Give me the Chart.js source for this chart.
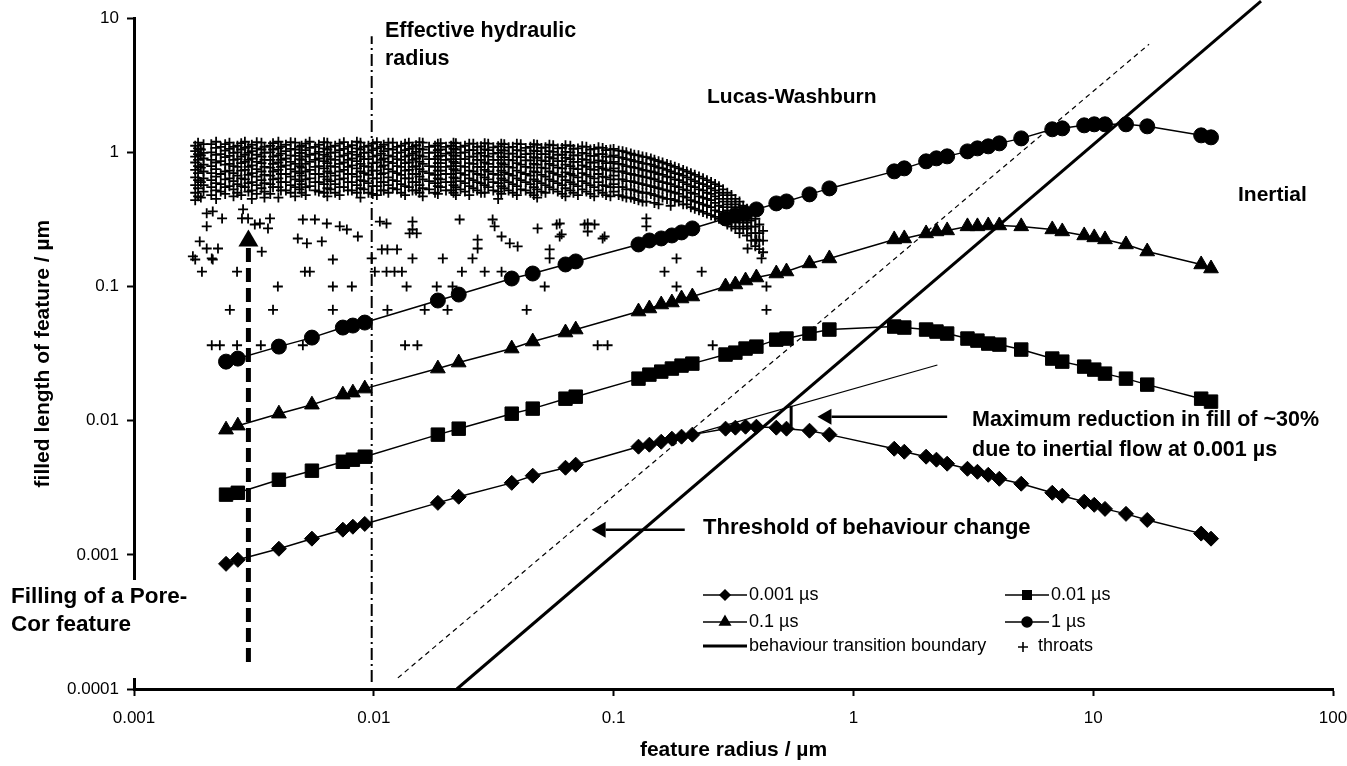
<!DOCTYPE html>
<html><head><meta charset="utf-8">
<script src="https://cdn.jsdelivr.net/npm/chart.js@4.4.1/dist/chart.umd.min.js"></script>
<style>html,body{margin:0;padding:0;background:#fff;}#wrap{width:1347px;height:766px;}</style>
</head><body><div id="wrap"><canvas id="c" width="1347" height="766"></canvas></div>
<script>
const FONT = "'Liberation Sans', Arial, sans-serif";
const xTickLabels = ['0.001','0.01','0.1','1','10','100'];
const yTickLabels = ['0.0001','0.001','0.01','0.1','1','10'];

// feature radius (µm) shared by the four Bosanquet series
const radius = [0.00242,0.00271,0.00402,0.00552,0.00743,0.00818,0.00917,0.0185,0.0226,0.0376,0.046,0.063,0.0695,0.127,0.141,0.158,0.175,0.192,0.213,0.293,0.322,0.355,0.394,0.477,0.526,0.656,0.794,1.48,1.63,2.01,2.22,2.46,2.99,3.29,3.65,4.06,5.01,6.75,7.43,9.17,10.1,11.2,13.7,16.8,28.2,31.0];
const fill0001 = [0.000857,0.000918,0.00111,0.00132,0.00154,0.00162,0.0017,0.00244,0.00271,0.00344,0.00389,0.00446,0.0047,0.0064,0.00662,0.00697,0.00734,0.0076,0.00787,0.00872,0.00887,0.00902,0.00902,0.00887,0.00872,0.00842,0.00787,0.00618,0.00587,0.00539,0.00512,0.00478,0.00438,0.00416,0.00395,0.00369,0.00339,0.0029,0.00276,0.00249,0.00236,0.0022,0.00202,0.00182,0.00144,0.00132];
const fill001 = [0.00281,0.0029,0.00363,0.00424,0.00494,0.00512,0.00539,0.00787,0.00872,0.01128,0.0123,0.01459,0.0151,0.02058,0.02205,0.02322,0.02445,0.02574,0.02663,0.0311,0.03216,0.03447,0.03566,0.04018,0.04093,0.04459,0.04777,0.05029,0.04943,0.04777,0.04614,0.04459,0.04093,0.03953,0.03755,0.0369,0.03388,0.02903,0.02755,0.0253,0.02403,0.02243,0.02058,0.01857,0.01459,0.01387];
const fill01 = [0.00857,0.00918,0.01128,0.01316,0.01563,0.01618,0.01734,0.02445,0.0271,0.03447,0.0389,0.04539,0.04777,0.06508,0.06856,0.07342,0.07599,0.08138,0.08422,0.1,0.1035,0.1108,0.1167,0.125,0.1294,0.1486,0.1618,0.2243,0.2282,0.2486,0.2573,0.2618,0.2806,0.2806,0.2851,0.2851,0.2806,0.2663,0.2573,0.2402,0.2322,0.2243,0.2058,0.1824,0.146,0.1362];
const fill1 = [0.02755,0.02903,0.03566,0.04161,0.04943,0.05117,0.05387,0.07866,0.08714,0.1147,0.125,0.146,0.1538,0.2058,0.2204,0.2282,0.2402,0.253,0.271,0.3217,0.3388,0.3507,0.3757,0.4163,0.4307,0.4862,0.5387,0.7216,0.7599,0.8571,0.9025,0.9337,1.017,1.071,1.109,1.167,1.271,1.486,1.51,1.59,1.618,1.618,1.618,1.563,1.339,1.294];

// reference lines
const boundaryR = [0.0222, 50.1];   const boundaryL = [0.0001, 13.4];
const thresholdR = [0.0126, 17.1];  const thresholdL = [0.000121, 6.4];
const lwExtR = [0.213, 2.24];       const lwExtL = [0.00787, 0.026];
const reductionR = [0.55, 0.55];    const reductionL = [0.0129, 0.009];
const poreCorR = [0.003, 0.003];    const poreCorL = [0.000159, 0.199];
const hydraulicR = [0.0098, 0.0098]; const hydraulicL = [0.000113, 7.35];

// throats: dense band columns [radius, [lengths]] and scattered throats [radius, length]
const throatColumns = [
[0.0018,[1.12,1.02,0.93,0.84,0.74,0.65,0.57,0.5,0.44]],
[0.00185,[1.18,1.07,0.97,0.88,0.79,0.7,0.62,0.54,0.47]],
[0.0019,[1.05,0.95,0.77,0.6,0.46]],
[0.00195,[1.15,0.99,0.9,0.81,0.72,0.64,0.57,0.51]],
[0.0021,[1.15,1.0,0.88,0.79,0.7,0.62,0.55,0.48]],
[0.0022,[1.2,1.08,0.96,0.84,0.75,0.66,0.59,0.52,0.45]],
[0.0023,[1.1,0.97,0.86,0.69,0.58,0.51]],
[0.0024,[1.15,1.03,0.92,0.81,0.72,0.63,0.55,0.49]],
[0.0025,[1.18,1.06,0.94,0.82,0.73,0.64,0.56]],
[0.0026,[1.1,0.99,0.88,0.79,0.7,0.61,0.53,0.47]],
[0.0027,[1.12,1.0,0.89,0.78,0.67,0.58,0.5]],
[0.0028,[1.17,1.05,0.93,0.83,0.73,0.64,0.56,0.48]],
[0.0029,[1.2,1.08,0.96,0.85,0.74,0.63,0.55]],
[0.003,[1.1,0.99,0.88,0.78,0.68,0.59,0.51]],
[0.0031,[1.14,1.02,0.9,0.8,0.7,0.6,0.52,0.45]],
[0.00325,[1.19,1.07,0.96,0.85,0.75,0.66,0.57,0.49]],
[0.0034,[1.18,1.05,0.93,0.83,0.72,0.62,0.54]],
[0.0035,[1.1,0.99,0.88,0.78,0.68,0.59,0.51,0.46]],
[0.0037,[1.12,1.0,0.88,0.77,0.67,0.58,0.49]],
[0.0038,[1.17,1.05,0.93,0.82,0.72,0.63,0.55]],
[0.004,[1.2,1.07,0.95,0.84,0.74,0.64,0.55,0.46]],
[0.0041,[1.1,0.98,0.88,0.78,0.69,0.6,0.52]],
[0.0043,[1.14,1.02,0.9,0.8,0.69,0.6,0.52]],
[0.0045,[1.19,1.06,0.95,0.85,0.75,0.66,0.57,0.5]],
[0.0047,[1.18,1.05,0.94,0.82,0.72,0.63,0.55,0.47]],
[0.0049,[1.1,0.99,0.89,0.79,0.7,0.61,0.53]],
[0.005,[1.12,0.99,0.88,0.77,0.67,0.58,0.5]],
[0.0052,[1.16,1.04,0.93,0.82,0.72,0.63,0.55,0.48]],
[0.0054,[1.2,1.08,0.96,0.85,0.74,0.64,0.56]],
[0.0057,[1.1,0.98,0.88,0.78,0.69,0.6,0.52]],
[0.0059,[1.14,1.01,0.9,0.79,0.69,0.6,0.51]],
[0.0062,[1.19,1.07,0.96,0.86,0.76,0.66,0.58,0.5]],
[0.0064,[1.18,1.05,0.93,0.83,0.72,0.63,0.54,0.47]],
[0.0066,[1.1,0.99,0.89,0.79,0.7,0.61,0.53]],
[0.0069,[1.12,1.0,0.88,0.78,0.67,0.58,0.5]],
[0.0072,[1.16,1.04,0.93,0.82,0.72,0.63,0.55,0.48]],
[0.0075,[1.19,1.06,0.95,0.84,0.74,0.64,0.55]],
[0.0078,[1.1,0.98,0.88,0.78,0.69,0.6,0.52]],
[0.0081,[1.13,1.01,0.9,0.8,0.69,0.6,0.52]],
[0.0085,[1.2,1.07,0.96,0.86,0.76,0.66,0.57,0.5]],
[0.0088,[1.18,1.05,0.93,0.82,0.72,0.62,0.54,0.46]],
[0.0091,[1.1,0.99,0.89,0.79,0.7,0.61,0.53]],
[0.0095,[1.12,1.0,0.89,0.78,0.68,0.59,0.5]],
[0.0099,[1.16,1.04,0.93,0.83,0.73,0.64,0.56,0.49]],
[0.0103,[1.19,1.07,0.95,0.84,0.73,0.64,0.56,0.48]],
[0.0107,[1.1,0.98,0.88,0.78,0.69,0.6,0.52]],
[0.011,[1.14,1.02,0.9,0.8,0.7,0.6,0.52]],
[0.0115,[1.18,1.06,0.95,0.85,0.75,0.65,0.57,0.5]],
[0.012,[1.18,1.05,0.93,0.83,0.72,0.62,0.54]],
[0.0125,[1.1,0.99,0.89,0.79,0.7,0.61,0.53]],
[0.013,[1.12,1.0,0.88,0.78,0.68,0.58,0.5]],
[0.0135,[1.16,1.04,0.93,0.83,0.73,0.64,0.56,0.48]],
[0.014,[1.18,1.06,0.95,0.84,0.74,0.64,0.55]],
[0.0145,[1.1,0.98,0.88,0.78,0.69,0.6,0.52]],
[0.015,[1.13,1.01,0.9,0.79,0.69,0.6,0.52]],
[0.0155,[1.19,1.06,0.95,0.85,0.75,0.66,0.57,0.5]],
[0.016,[1.18,1.05,0.93,0.82,0.72,0.63,0.54,0.47]],
[0.017,[1.1,0.99,0.89,0.79,0.7,0.61,0.53]],
[0.018,[1.12,1.0,0.89,0.78,0.68,0.59,0.5]],
[0.0185,[1.16,1.04,0.93,0.83,0.73,0.64,0.56,0.49]],
[0.019,[1.17,1.05,0.94,0.83,0.73,0.63,0.55]],
[0.02,[1.1,0.98,0.88,0.78,0.69,0.6,0.52]],
[0.021,[1.12,1.0,0.89,0.79,0.69,0.6,0.52]],
[0.0215,[1.18,1.06,0.95,0.85,0.75,0.65,0.57,0.5]],
[0.022,[1.17,1.05,0.94,0.83,0.73,0.64,0.55,0.48]],
[0.023,[1.1,0.99,0.89,0.79,0.7,0.61,0.53]],
[0.024,[1.12,1.0,0.89,0.78,0.68,0.59,0.51]],
[0.025,[1.16,1.04,0.93,0.83,0.73,0.64,0.56,0.48]],
[0.026,[1.16,1.04,0.93,0.82,0.72,0.62,0.54]],
[0.027,[1.1,0.98,0.88,0.78,0.69,0.6,0.52]],
[0.028,[1.11,0.99,0.88,0.78,0.68,0.59,0.5]],
[0.029,[1.17,1.05,0.94,0.84,0.74,0.65,0.57,0.5]],
[0.03,[1.16,1.04,0.93,0.82,0.72,0.63,0.55]],
[0.0315,[1.09,0.98,0.88,0.78,0.69,0.6,0.52]],
[0.033,[1.11,0.99,0.88,0.78,0.68,0.59,0.51,0.45]],
[0.034,[1.16,1.04,0.93,0.83,0.73,0.64,0.56,0.49]],
[0.035,[1.15,1.03,0.92,0.81,0.71,0.62,0.54]],
[0.0365,[1.09,0.98,0.88,0.78,0.69,0.6,0.52]],
[0.038,[1.1,0.98,0.87,0.77,0.67,0.58,0.5]],
[0.0395,[1.16,1.04,0.93,0.83,0.73,0.64,0.56,0.48]],
[0.041,[1.15,1.03,0.92,0.81,0.71,0.62,0.53]],
[0.043,[1.08,0.97,0.87,0.78,0.69,0.6,0.52]],
[0.045,[1.1,0.98,0.87,0.77,0.67,0.58,0.5]],
[0.0465,[1.15,1.03,0.92,0.82,0.72,0.63,0.55,0.48]],
[0.048,[1.14,1.02,0.91,0.81,0.71,0.61,0.53,0.46]],
[0.05,[1.08,0.97,0.87,0.77,0.68,0.59,0.51]],
[0.052,[1.09,0.97,0.86,0.76,0.66,0.57,0.5]],
[0.054,[1.14,1.02,0.92,0.82,0.72,0.63,0.55]],
[0.056,[1.13,1.01,0.9,0.8,0.7,0.61,0.53]],
[0.0585,[1.07,0.96,0.86,0.77,0.68,0.59,0.51]],
[0.061,[1.08,0.96,0.86,0.76,0.66,0.57,0.49]],
[0.063,[1.13,1.01,0.91,0.81,0.71,0.62,0.54,0.47]],
[0.066,[1.12,1.0,0.89,0.79,0.69,0.6,0.52]],
[0.068,[1.06,0.95,0.85,0.76,0.67,0.58,0.5]],
[0.071,[1.07,0.95,0.85,0.75,0.65,0.56,0.48]],
[0.074,[1.11,0.99,0.89,0.8,0.7,0.61,0.53]],
[0.077,[1.1,0.98,0.88,0.78,0.68,0.59,0.51]],
[0.08,[1.05,0.94,0.84,0.75,0.66,0.57,0.49]],
[0.083,[1.06,0.94,0.84,0.74,0.64,0.55,0.47]],
[0.0865,[1.09,0.97,0.87,0.78,0.69,0.6,0.52]],
[0.09,[1.08,0.97,0.86,0.76,0.66,0.57,0.5]],
[0.093,[1.04,0.93,0.83,0.74,0.65,0.56,0.48]],
[0.097,[1.05,0.93,0.83,0.73,0.63,0.55,0.47]],
[0.1,[1.06,0.95,0.85,0.76,0.67,0.58,0.51]],
[0.105,[1.03,0.92,0.82,0.72,0.63,0.55,0.48]],
[0.109,[1.02,0.91,0.81,0.72,0.63,0.55,0.47]],
[0.113,[1.0,0.89,0.79,0.7,0.61,0.53,0.46]],
[0.118,[0.98,0.88,0.78,0.69,0.61,0.53,0.46]],
[0.122,[0.96,0.86,0.77,0.68,0.6,0.52,0.45]],
[0.127,[0.95,0.85,0.76,0.67,0.59,0.51,0.44]],
[0.132,[0.93,0.83,0.74,0.66,0.58,0.5,0.43]],
[0.137,[0.92,0.82,0.73,0.65,0.57,0.5,0.43]],
[0.143,[0.9,0.81,0.72,0.64,0.56,0.49]],
[0.148,[0.88,0.79,0.71,0.63,0.55,0.48,0.42]],
[0.154,[0.86,0.77,0.69,0.61,0.54,0.47,0.41]],
[0.16,[0.84,0.76,0.68,0.6,0.53,0.46]],
[0.167,[0.82,0.74,0.66,0.59,0.52,0.45]],
[0.173,[0.8,0.72,0.65,0.58,0.51,0.45,0.4]],
[0.18,[0.78,0.7,0.63,0.56,0.5,0.44]],
[0.187,[0.76,0.69,0.62,0.55,0.49,0.43]],
[0.195,[0.74,0.67,0.6,0.53,0.47,0.41]],
[0.202,[0.72,0.65,0.58,0.52,0.46,0.41]],
[0.21,[0.7,0.63,0.56,0.5,0.44,0.39]],
[0.218,[0.68,0.61,0.55,0.49,0.43,0.38]],
[0.227,[0.66,0.59,0.53,0.47,0.42,0.37]],
[0.236,[0.64,0.58,0.52,0.46,0.41,0.36]],
[0.245,[0.62,0.56,0.5,0.45,0.4,0.35]],
[0.255,[0.6,0.54,0.49,0.44,0.39,0.34]],
[0.265,[0.58,0.52,0.47,0.42,0.37,0.33]],
[0.275,[0.56,0.5,0.45,0.4,0.36,0.32]],
[0.286,[0.53,0.48,0.43,0.39,0.35,0.31]],
[0.298,[0.5,0.45,0.41,0.37,0.33,0.29]],
[0.31,[0.48,0.43,0.39,0.35,0.31,0.28]],
[0.322,[0.45,0.41,0.37,0.33,0.3,0.27]],
[0.335,[0.43,0.39,0.35,0.31,0.28,0.25]],
[0.347,[0.4,0.36,0.33,0.3,0.27]],
[0.36,[0.38,0.34,0.3,0.27,0.24]],
[0.375,[0.35,0.31,0.28,0.25,0.22]],
[0.39,[0.32,0.28,0.25,0.22,0.2]],
[0.405,[0.29,0.25,0.22,0.19]],
[0.42,[0.26,0.22,0.18]]
];
const throatScatter = [
[0.00201,0.351],[0.00213,0.363],[0.00233,0.322],[0.00201,0.281],[0.00285,0.376],[0.00282,0.322],[0.00299,0.322],[0.00319,0.29],[0.00335,0.295],[0.00362,0.271],[0.00369,0.322],[0.00188,0.217],[0.00201,0.192],[0.00224,0.192],[0.00176,0.168],[0.00211,0.162],[0.00192,0.129],[0.00269,0.129],[0.00341,0.182],[0.00251,0.067],[0.0038,0.067],[0.00398,0.1],[0.00506,0.316],[0.00568,0.316],[0.00637,0.295],[0.00721,0.281],[0.00772,0.266],[0.00482,0.228],[0.00526,0.21],[0.00607,0.217],[0.00858,0.236],[0.00675,0.159],[0.00516,0.129],[0.00541,0.129],[0.00675,0.1],[0.0081,0.1],[0.00675,0.067],[0.0098,0.162],[0.0106,0.305],[0.0113,0.295],[0.0108,0.189],[0.0114,0.189],[0.0125,0.189],[0.0101,0.129],[0.0113,0.129],[0.0122,0.129],[0.0131,0.129],[0.0145,0.305],[0.0145,0.266],[0.0141,0.249],[0.0151,0.249],[0.0145,0.162],[0.0137,0.1],[0.0114,0.067],[0.0163,0.067],[0.0203,0.067],[0.0183,0.1],[0.0213,0.1],[0.0194,0.162],[0.0258,0.162],[0.0233,0.129],[0.0228,0.316],[0.0271,0.224],[0.0271,0.192],[0.029,0.129],[0.0341,0.129],[0.0313,0.316],[0.0319,0.281],[0.0341,0.236],[0.0369,0.21],[0.0398,0.199],[0.0434,0.067],[0.0516,0.1],[0.0541,0.189],[0.0541,0.162],[0.0482,0.271],[0.0579,0.29],[0.0607,0.245],[0.0757,0.29],[0.0833,0.29],[0.09,0.228],[0.0135,0.0365],[0.0152,0.0365],[0.0858,0.0365],[0.0944,0.0365],[0.078,0.295],[0.078,0.257],[0.0917,0.236],[0.137,0.322],[0.137,0.281],[0.183,0.162],[0.183,0.1],[0.163,0.129],[0.233,0.129],[0.259,0.0365],[0.362,0.281],[0.394,0.224],[0.362,0.192],[0.414,0.162],[0.434,0.1],[0.434,0.067],[0.0596,0.295],[0.0596,0.236],[0.00211,0.0365],[0.00228,0.0365],[0.00269,0.0365],[0.00338,0.0365],[0.00506,0.0365],[0.0018,0.159],[0.00213,0.159]
];

const pts = (xs, ys) => xs.map((x, i) => ({x, y: ys[i]}));
const throatData = throatColumns.flatMap(([x, ys]) => ys.map(y => ({x, y}))).concat(throatScatter.map(([x, y]) => ({x, y})));

function series(label, ys, style, r) {
  return {label, data: pts(radius, ys), showLine: true, borderColor: '#000', borderWidth: 1.5,
    pointStyle: style, pointRadius: r, pointBackgroundColor: '#000', pointBorderColor: '#000', pointBorderWidth: 1, tension: 0};
}
function refLine(label, xs, ys, width, dash, clip) {
  const d = {label, data: pts(xs, ys), showLine: true, borderColor: '#000', borderWidth: width, borderDash: dash || [], pointRadius: 0, tension: 0};
  if (clip === false) d.clip = false;
  return d;
}

const datasets = [
  series('0.001 µs', fill0001, 'rectRot', 7.5),
  series('0.01 µs', fill001, 'rect', 9.5),
  series('0.1 µs', fill01, 'triangle', 8.5),
  series('1 µs', fill1, 'circle', 7.5),
  refLine('behaviour transition boundary', boundaryR, boundaryL, 3, null, false),
  refLine('threshold', thresholdR, thresholdL, 1.2, [5, 4]),
  refLine('Lucas-Washburn extension', lwExtR, lwExtL, 1.2),
  refLine('maximum reduction', reductionR, reductionL, 3),
  refLine('Pore-Cor feature', poreCorR, poreCorL, 5, [14, 6]),
  refLine('effective hydraulic radius', hydraulicR, hydraulicL, 2, [12, 4, 2, 4]),
  {label: 'throats', data: throatData, showLine: false, pointStyle: 'cross', pointRadius: 5, borderColor: '#000', pointBorderColor: '#000', pointBorderWidth: 1.8}
];

const arrows = [
  {from: [0.198, 0.00154], to: [0.081, 0.00154], head: 14, half: 8, width: 2.5, shaft: true},
  {from: [2.46, 0.0107], to: [0.708, 0.0107], head: 14, half: 8, width: 2.5, shaft: true},
  {from: [0.003, 0.199], to: [0.003, 0.266], head: 17, half: 10, width: 0, shaft: false}
];
const labels = [
  {t: 'Effective hydraulic', x: 385, y: 31, s: 21.5},
  {t: 'radius', x: 385, y: 59, s: 21.5},
  {t: 'Lucas-Washburn', x: 707, y: 97, s: 21},
  {t: 'Inertial', x: 1238, y: 195, s: 21},
  {t: 'Maximum reduction in fill of ~30%', x: 972, y: 420, s: 21.5},
  {t: 'due to inertial flow at 0.001 µs', x: 972, y: 450, s: 21.5},
  {t: 'Threshold of behaviour change', x: 703, y: 528, s: 22},
  {t: 'Filling of a Pore-', x: 11, y: 597, s: 22.5},
  {t: 'Cor feature', x: 11, y: 625, s: 22.5}
];
const legendItems = [
  {ds: 0, x: 703, y: 595, r: 5},
  {ds: 1, x: 1005, y: 595, r: 6},
  {ds: 2, x: 703, y: 622, r: 6},
  {ds: 3, x: 1005, y: 622, r: 5},
  {ds: 4, x: 703, y: 646, r: 0}
];

const annot = {
  id: 'annot',
  afterDatasetsDraw(chart) {
    const {ctx} = chart; const xs = chart.scales.x, ys = chart.scales.y;
    ctx.save(); ctx.fillStyle = '#000'; ctx.strokeStyle = '#000';
    arrows.forEach(a => {
      const x1 = xs.getPixelForValue(a.from[0]), y1 = ys.getPixelForValue(a.from[1]);
      const x2 = xs.getPixelForValue(a.to[0]), y2 = ys.getPixelForValue(a.to[1]);
      const ang = Math.atan2(y2 - y1, x2 - x1);
      const bx = x2 - Math.cos(ang) * a.head, by = y2 - Math.sin(ang) * a.head;
      if (a.shaft) { ctx.lineWidth = a.width; ctx.beginPath(); ctx.moveTo(x1, y1); ctx.lineTo(bx, by); ctx.stroke(); }
      ctx.beginPath(); ctx.moveTo(x2, y2);
      ctx.lineTo(bx - Math.sin(ang) * a.half, by + Math.cos(ang) * a.half);
      ctx.lineTo(bx + Math.sin(ang) * a.half, by - Math.cos(ang) * a.half);
      ctx.closePath(); ctx.fill();
    });
    ctx.restore();
  },
  afterDraw(chart) {
    const {ctx} = chart;
    ctx.save();
    ctx.fillStyle = '#fff'; ctx.fillRect(0, 580, 190, 98);
    ctx.fillStyle = '#000'; ctx.textAlign = 'left'; ctx.textBaseline = 'middle';
    labels.forEach(l => { ctx.font = 'bold ' + l.s + 'px ' + FONT; ctx.fillText(l.t, l.x, l.y); });
    ctx.font = '18px ' + FONT;
    legendItems.forEach(it => {
      const d = chart.data.datasets[it.ds];
      ctx.strokeStyle = '#000'; ctx.lineWidth = d.borderWidth; ctx.setLineDash([]);
      ctx.beginPath(); ctx.moveTo(it.x, it.y); ctx.lineTo(it.x + 44, it.y); ctx.stroke();
      ctx.fillStyle = '#000';
      if (it.r) Chart.helpers.drawPoint(ctx, {pointStyle: d.pointStyle, radius: it.r, borderWidth: 1, rotation: 0}, it.x + 22, it.y);
      ctx.fillText(d.label, it.x + 46, it.y);
    });
    const th = chart.data.datasets[10];
    ctx.lineWidth = 1.6;
    Chart.helpers.drawPoint(ctx, {pointStyle: 'cross', radius: 5, borderWidth: 1.6, rotation: 0}, 1023, 647);
    ctx.fillText(th.label, 1038, 646);
    ctx.restore();
  }
};

new Chart(document.getElementById('c'), {
  type: 'scatter',
  data: {datasets},
  plugins: [annot],
  options: {
    responsive: false, animation: false, devicePixelRatio: 1,
    layout: {padding: {left: 0, right: 14, top: 17, bottom: 0}},
    plugins: {legend: {display: false}, tooltip: {enabled: false}},
    elements: {point: {backgroundColor: '#000', borderColor: '#000'}},
    scales: {
      x: {
        type: 'logarithmic', position: 'bottom', min: 0.001, max: 100,
        afterBuildTicks: s => { s.ticks = xTickLabels.map(t => ({value: parseFloat(t)})); },
        afterFit: s => { s.height = 77; s.paddingRight = 0; s.paddingLeft = 0; },
        ticks: {callback: (v, i) => xTickLabels[i], autoSkip: false, maxRotation: 0, font: {family: FONT, size: 17}, color: '#000', padding: 12},
        grid: {drawOnChartArea: false, drawTicks: true, tickLength: 7, tickWidth: 2, tickColor: '#000'},
        border: {display: true, color: '#000', width: 3},
        title: {display: true, text: 'feature radius / µm', color: '#000', font: {family: FONT, size: 21, weight: 'bold'}, padding: {top: 0, bottom: 3}}
      },
      y: {
        type: 'logarithmic', position: 'left', min: 0.0001, max: 10,
        afterBuildTicks: s => { s.ticks = yTickLabels.map(t => ({value: parseFloat(t)})); },
        afterFit: s => { s.width = 134; },
        ticks: {callback: (v, i) => yTickLabels[i], autoSkip: false, font: {family: FONT, size: 17}, color: '#000', padding: 8},
        grid: {drawOnChartArea: false, drawTicks: true, tickLength: 7, tickWidth: 2, tickColor: '#000'},
        border: {display: true, color: '#000', width: 3},
        title: {display: true, text: 'filled length of feature / µm', color: '#000', font: {family: FONT, size: 21, weight: 'bold'}, padding: {top: 31, bottom: 0}}
      }
    }
  }
});
</script>
</body></html>
